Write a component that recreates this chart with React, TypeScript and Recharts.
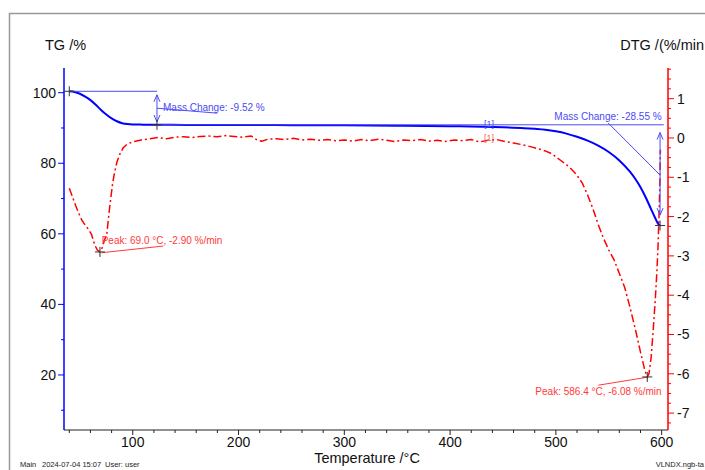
import React from "react";
import {
  ComposedChart,
  Customized,
  Line,
  ReferenceDot,
  ReferenceLine,
  XAxis,
  YAxis,
} from "recharts";

// TG curve (mass %)
const tgTemp = [
  40, 45, 50, 55, 60, 65, 70, 75, 80, 85, 90, 95, 100, 110, 122, 150, 200, 250, 300, 350,
  400, 430, 450, 470, 480, 490, 500, 510, 520, 530, 540, 550, 560, 570, 575, 580, 585, 590,
  594, 597, 598.5,
];
const tgMass = [
  100.4, 100.2, 99.7, 98.9, 97.9, 96.6, 95.1, 93.8, 92.7, 91.9, 91.35, 91.1, 91.0, 90.95,
  90.9, 90.88, 90.85, 90.8, 90.75, 90.65, 90.5, 90.35, 90.2, 89.95, 89.75, 89.5, 89.05, 88.4,
  87.5, 86.4, 85.0, 83.2, 80.8, 77.6, 75.6, 73.2, 70.3, 67.0, 64.4, 62.7, 62.35,
];

// DTG curve (%/min)
const dtgTemp = [
  40, 43, 46, 49, 52, 55, 58, 61, 64, 66.5, 69, 71, 73, 75.5, 78, 81, 83, 85, 88, 91, 95, 100,
  108, 116, 124, 132, 140, 148, 156, 164, 172, 180, 188, 196, 204, 212, 218, 222, 228, 236,
  244, 252, 260, 268, 276, 284, 292, 300, 308, 316, 324, 332, 340, 348, 356, 364, 372, 380,
  388, 396, 404, 412, 420, 428, 436, 444, 452, 460, 468, 476, 484, 490, 496, 500, 505, 510,
  515, 520, 525, 530, 535, 540, 545, 550, 555, 560, 565, 570, 575, 580, 584, 586.4, 588, 590,
  592, 594, 595.5, 596.5, 597.5, 598.3, 598.8,
];
const dtgRate = [
  -1.28, -1.5, -1.72, -1.92, -2.1, -2.22, -2.32, -2.45, -2.72, -2.85, -2.9, -2.8, -2.62,
  -2.44, -1.8, -1.15, -0.85, -0.62, -0.4, -0.25, -0.15, -0.1, -0.05, -0.02, 0.01, -0.02, 0.02,
  0.03, 0.01, 0.04, 0.05, 0.03, 0.06, 0.04, 0.02, 0.05, -0.06, -0.08, -0.03, -0.02, -0.04,
  -0.01, -0.05, -0.03, -0.06, -0.04, -0.07, -0.05, -0.08, -0.04, -0.07, -0.03, -0.06, -0.09,
  -0.05, -0.07, -0.04, -0.08, -0.06, -0.09, -0.05, -0.07, -0.04, -0.1, -0.06, -0.04, -0.09,
  -0.13, -0.17, -0.22, -0.28, -0.33, -0.4, -0.48, -0.58, -0.68, -0.8, -0.95, -1.15, -1.45,
  -1.8, -2.2, -2.55, -2.85, -3.1, -3.45, -3.8, -4.3, -4.85, -5.45, -5.9, -6.08, -6.0, -5.6,
  -4.9, -4.1, -3.4, -2.8, -2.0, -1.15, -0.3,
];

const tempTicks = [
  40, 60, 80, 100, 120, 140, 160, 180, 200, 220, 240, 260, 280, 300, 320, 340, 360, 380, 400,
  420, 440, 460, 480, 500, 520, 540, 560, 580, 600,
];
const tgTicks = [10, 20, 30, 40, 50, 60, 70, 80, 90, 100];
const dtgTicks = Array.from({ length: 37 }, (_, i) => -7.25 + i * 0.25);

const tgData = tgTemp.map((t, i) => ({ t, v: tgMass[i] }));
const dtgData = dtgTemp.map((t, i) => ({ t, v: dtgRate[i] }));

const FONT = "Arial, 'Liberation Sans', sans-serif";
const BLUE = "#0000ff";
const NOTE_BLUE = "#4b4bf5";
const RED = "#ff0000";
const NOTE_RED = "#ff3a3a";
const MARK = "#333";

function TempTick({ x, y, payload }: any) {
  const v = payload.value;
  const major = v % 100 === 0;
  return (
    <g>
      <line x1={x} y1={y} x2={x} y2={y + (major ? 5 : 3)} stroke="#222" />
      {major && (
        <text x={x} y={y + 17} textAnchor="middle" fontSize={14} fill="#111" fontFamily={FONT}>
          {v}
        </text>
      )}
    </g>
  );
}

function TgTick({ x, y, payload }: any) {
  const v = payload.value;
  const major = v % 20 === 0;
  return (
    <g>
      <line x1={x} y1={y} x2={x - (major ? 6 : 3)} y2={y} stroke={BLUE} />
      {major && (
        <text x={x - 8} y={y + 5} textAnchor="end" fontSize={14} fill="#111" fontFamily={FONT}>
          {v}
        </text>
      )}
    </g>
  );
}

function DtgTick({ x, y, payload }: any) {
  const v = payload.value;
  const major = Math.abs(v - Math.round(v)) < 1e-6;
  return (
    <g>
      <line x1={x} y1={y} x2={x + (major ? 6 : 3)} y2={y} stroke={RED} />
      {major && (
        <text x={x + 9} y={y + 5} textAnchor="start" fontSize={14} fill="#111" fontFamily={FONT}>
          {Math.round(v)}
        </text>
      )}
    </g>
  );
}

const plus = (p: any) => (
  <g stroke={MARK} strokeWidth={1}>
    <line x1={p.cx - 5} y1={p.cy} x2={p.cx + 5} y2={p.cy} />
    <line x1={p.cx} y1={p.cy - 5} x2={p.cx} y2={p.cy + 5} />
  </g>
);

// dir 1 = pointing up, -1 = pointing down
const arrow = (dir: number) => (p: any) => (
  <polyline
    points={`${p.cx - 3},${p.cy + dir * 7} ${p.cx},${p.cy} ${p.cx + 3},${p.cy + dir * 7}`}
    fill="none"
    stroke={NOTE_BLUE}
  />
);

const note =
  (text: string, color: string, anchor: "start" | "middle" | "end", size = 10) =>
  (p: any) => (
    <text x={p.cx} y={p.cy} fill={color} fontSize={size} textAnchor={anchor} fontFamily={FONT}>
      {text}
    </text>
  );

function Frame() {
  return (
    <g fontFamily={FONT}>
      <rect x={9.5} y={13.5} width={800} height={600} fill="none" stroke="#999" strokeWidth={1.5} />
      <text x={45} y={50} fontSize={14.5} fill="#111">TG /%</text>
      <text x={704} y={50} fontSize={14.5} fill="#111" textAnchor="end">DTG /(%/min</text>
      <text x={367} y={463} fontSize={14.5} fill="#111" textAnchor="middle">Temperature /°C</text>
      <text x={20} y={467} fontSize={7.5} fill="#222">Main</text>
      <text x={42} y={467} fontSize={7.5} fill="#222">2024-07-04 15:07</text>
      <text x={105} y={467} fontSize={7.5} fill="#222">User: user</text>
      <text x={704} y={467} fontSize={7.5} fill="#222" textAnchor="end">VLNDX.ngb-ta</text>
    </g>
  );
}

export default function App() {
  return (
    <div style={{ position: "absolute", left: 0, top: 0, width: 705, height: 470, overflow: "hidden", background: "#fff" }}>
      <ComposedChart width={705} height={470} margin={{ top: 68, right: 5, bottom: 10, left: 4 }}>
        <XAxis
          type="number"
          dataKey="t"
          domain={[35, 606]}
          allowDataOverflow
          ticks={tempTicks}
          interval={0}
          tickSize={0}
          tickMargin={0}
          tickLine={false}
          tick={<TempTick />}
          axisLine={{ stroke: "#222" }}
          height={30}
        />
        <YAxis
          yAxisId="tg"
          type="number"
          domain={[4.4, 107]}
          allowDataOverflow
          ticks={tgTicks}
          interval={0}
          tickSize={0}
          tickMargin={0}
          tickLine={false}
          tick={<TgTick />}
          axisLine={{ stroke: BLUE, strokeWidth: 1.5 }}
          width={60}
        />
        <YAxis
          yAxisId="dtg"
          orientation="right"
          type="number"
          domain={[-7.43, 1.78]}
          allowDataOverflow
          ticks={dtgTicks}
          interval={0}
          tickSize={0}
          tickMargin={0}
          tickLine={false}
          tick={<DtgTick />}
          axisLine={{ stroke: RED, strokeWidth: 1.5 }}
          width={32}
        />
        <Customized component={<Frame />} />

        <Line
          yAxisId="dtg"
          data={dtgData}
          dataKey="v"
          type="linear"
          stroke={RED}
          strokeWidth={1.5}
          strokeDasharray="8 3 2 3"
          dot={false}
          isAnimationActive={false}
        />
        <Line
          yAxisId="tg"
          data={tgData}
          dataKey="v"
          type="monotone"
          stroke={BLUE}
          strokeWidth={2}
          dot={false}
          isAnimationActive={false}
        />

        {/* mass change 1 */}
        <ReferenceLine yAxisId="tg" segment={[{ x: 40, y: 100.4 }, { x: 122.9, y: 100.4 }]} stroke={NOTE_BLUE} />
        <ReferenceLine yAxisId="tg" segment={[{ x: 122.9, y: 99.4 }, { x: 122.9, y: 91.7 }]} stroke={NOTE_BLUE} />
        <ReferenceLine yAxisId="tg" segment={[{ x: 122.9, y: 95.6 }, { x: 180, y: 94.2 }]} stroke={NOTE_BLUE} />
        <ReferenceDot yAxisId="tg" x={122.9} y={99.4} shape={arrow(1)} />
        <ReferenceDot yAxisId="tg" x={122.9} y={91.7} shape={arrow(-1)} />
        <ReferenceDot yAxisId="tg" x={40} y={100.4} shape={plus} />
        <ReferenceDot yAxisId="tg" x={122.9} y={90.9} shape={plus} />
        <ReferenceDot yAxisId="tg" x={128.6} y={94.8} shape={note("Mass Change: -9.52 %", NOTE_BLUE, "start")} />

        {/* mass change 2 */}
        <ReferenceLine yAxisId="tg" segment={[{ x: 122.9, y: 90.9 }, { x: 602, y: 90.9 }]} stroke={NOTE_BLUE} />
        <ReferenceLine yAxisId="tg" segment={[{ x: 598.5, y: 88.7 }, { x: 598.5, y: 65.3 }]} stroke={NOTE_BLUE} />
        <ReferenceLine yAxisId="tg" segment={[{ x: 549.5, y: 91.4 }, { x: 598.4, y: 76.7 }]} stroke={NOTE_BLUE} />
        <ReferenceDot yAxisId="tg" x={598.5} y={88.7} shape={arrow(1)} />
        <ReferenceDot yAxisId="tg" x={598.5} y={65.3} shape={arrow(-1)} />
        <ReferenceDot yAxisId="tg" x={598.5} y={62.35} shape={plus} />
        <ReferenceDot yAxisId="tg" x={600} y={92.2} shape={note("Mass Change: -28.55 %", NOTE_BLUE, "end")} />
        <ReferenceDot yAxisId="tg" x={436.7} y={90.3} shape={note("[1]", NOTE_BLUE, "middle", 9)} />

        {/* DTG peaks */}
        <ReferenceLine yAxisId="dtg" segment={[{ x: 70.6, y: -2.92 }, { x: 128.9, y: -2.75 }]} stroke={NOTE_RED} />
        <ReferenceDot yAxisId="dtg" x={69} y={-2.9} shape={plus} />
        <ReferenceDot yAxisId="dtg" x={70.6} y={-2.7} shape={note("Peak: 69.0 °C, -2.90 %/min", NOTE_RED, "start")} />
        <ReferenceLine yAxisId="dtg" segment={[{ x: 540.1, y: -6.29 }, { x: 585.9, y: -6.09 }]} stroke={NOTE_RED} />
        <ReferenceDot yAxisId="dtg" x={586.4} y={-6.08} shape={plus} />
        <ReferenceDot yAxisId="dtg" x={600} y={-6.54} shape={note("Peak: 586.4 °C, -6.08 %/min", NOTE_RED, "end")} />
        <ReferenceDot yAxisId="dtg" x={436.7} y={-0.08} shape={note("[1]", "#f06a4a", "middle", 9)} />
      </ComposedChart>
    </div>
  );
}
